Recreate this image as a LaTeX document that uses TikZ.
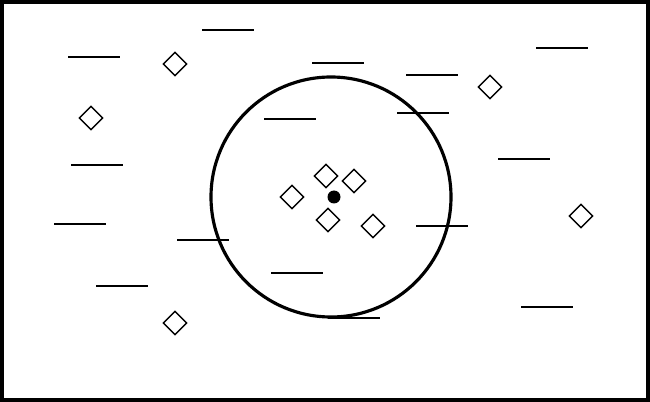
\documentclass[tikz,border=0pt]{standalone}
\usepackage{tikz}
\usetikzlibrary{shapes.geometric}

\tikzset{
  marker/.style={draw, diamond, line width=0.85pt, inner sep=0pt, minimum size=0.48cm, fill=white},
  dash line/.style={line width=0.85pt}
}

\begin{document}
\begin{tikzpicture}[x=0.02cm, y=-0.02cm]

% Frame
\useasboundingbox (0, 0) rectangle (650, 402);
\draw[line width=2.3pt] (2, 2) rectangle (648, 400);

% Short horizontal bars
\foreach \x/\y in {202/30, 68/57, 312/63, 264/119, 71/165, 536/48, 406/75, 397/113, 498/159, 54/224, 177/240, 96/286, 271/273, 416/226, 521/307, 328/318} {
    \draw[dash line] (\x, \y) -- ++(52, 0);
}

% Big circle
\draw[line width=1.8pt] (331, 197) circle (120);

% Diamonds
\foreach \x/\y [count=\i] in {175/64, 91/118, 490/87, 581/216, 175/323, 326/176, 354/181, 292/197, 328/220, 373/226} {
    \node[marker] (d\i) at (\x, \y) {};
}

% Centre dot
\fill (334, 197) circle (6.5);

\end{tikzpicture}
\end{document}
